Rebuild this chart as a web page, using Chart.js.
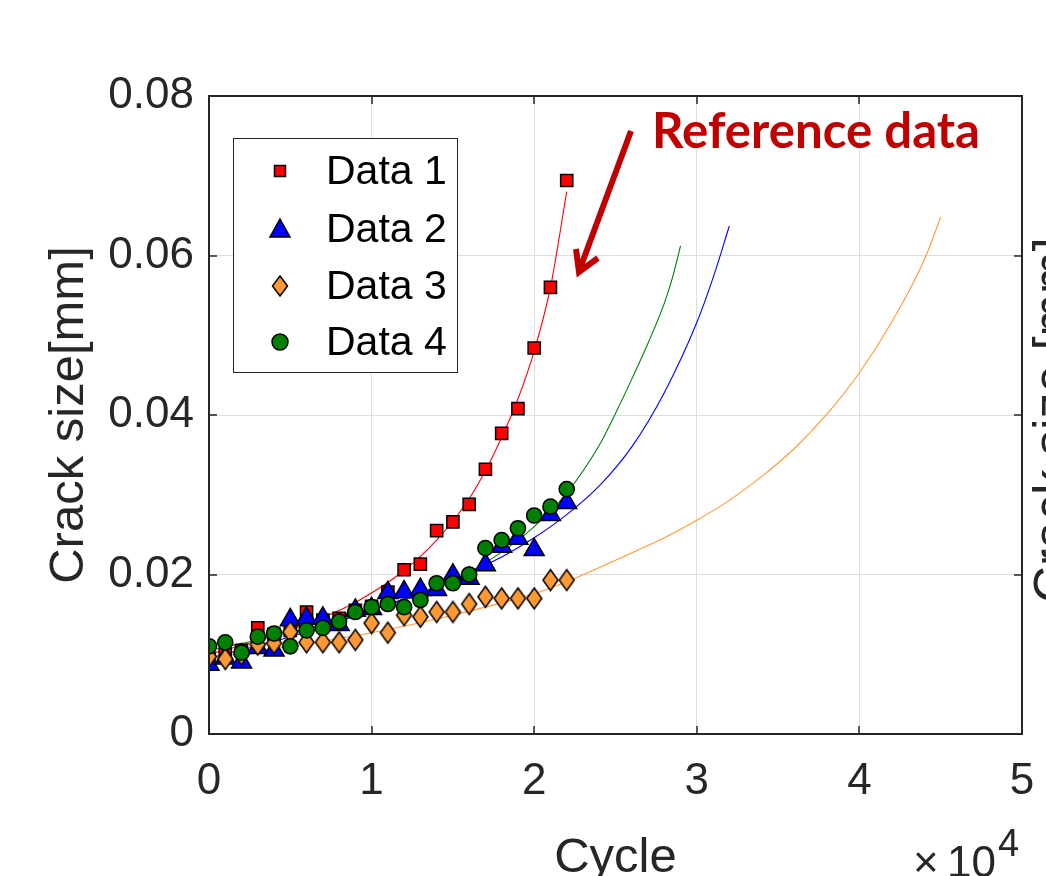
<!DOCTYPE html>
<html><head><meta charset="utf-8">
<script src="https://cdn.jsdelivr.net/npm/chart.js@4.4.1/dist/chart.umd.min.js"></script>
<style>html,body{margin:0;padding:0;background:#fff;overflow:hidden}#wrap{width:1046px;height:876px;position:relative}</style>
</head><body><div id="wrap"><canvas id="c" width="1046" height="876"></canvas></div>
<script>
// ---------- data ----------
const cycles = [0,1000,2000,3000,4000,5000,6000,7000,8000,9000,10000,11000,12000,13000,14000,15000,16000,17000,18000,19000,20000,21000,22000];
const data1 = [0.0095,0.0100,0.0105,0.0133,0.0125,0.0130,0.0153,0.0143,0.0145,0.0155,0.0160,0.0178,0.0206,0.0213,0.0255,0.0266,0.0288,0.0332,0.0377,0.0408,0.0484,0.0560,0.0694];
const data2 = [0.0087,0.0095,0.0090,0.0108,0.0105,0.0143,0.0145,0.0145,0.0137,0.0155,0.0157,0.0177,0.0178,0.0181,0.0181,0.0199,0.0195,0.0212,0.0235,0.0245,0.0231,0.0275,0.0290];
const data3 = [0.0097,0.0094,0.0100,0.0112,0.0114,0.0128,0.0115,0.0115,0.0115,0.0118,0.0139,0.0127,0.0149,0.0147,0.0153,0.0153,0.0163,0.0172,0.0170,0.0170,0.0170,0.0193,0.0193];
const data4 = [0.0110,0.0115,0.0102,0.0122,0.0126,0.0110,0.0130,0.0133,0.0141,0.0153,0.0159,0.0163,0.0159,0.0168,0.0189,0.0189,0.0200,0.0233,0.0243,0.0258,0.0274,0.0285,0.0307];

// fitted curves
const fit1X = [0,3000,6000,9000,12000,14000,16000,17000,18000,19000,20000,21000,22000];
const fit1Y = [0.0100,0.0117,0.0138,0.0165,0.0205,0.0243,0.0295,0.0330,0.0372,0.0420,0.0480,0.0560,0.0680];
const fit2X = [0,5000,10000,15000,18000,20000,22000,24000,26000,28000,30000,31000,32000];
const fit2Y = [0.0095,0.0122,0.0155,0.0193,0.0222,0.0246,0.0275,0.0311,0.0360,0.0428,0.0516,0.0572,0.0637];
const fit3X = [0,5000,10000,15000,20000,22000,25000,28000,30000,32000,34000,36000,38000,40000,42000,44000,45000];
const fit3Y = [0.0095,0.0110,0.0127,0.0149,0.0176,0.0191,0.0218,0.0246,0.0268,0.0293,0.0323,0.0358,0.0401,0.0453,0.0517,0.0595,0.0648];
const fit4X = [0,5000,10000,15000,18000,20000,22000,24000,25000,26000,27000,28000,28500,29000];
const fit4Y = [0.0105,0.0127,0.0155,0.0192,0.0228,0.0260,0.0302,0.0362,0.0402,0.0445,0.0490,0.0540,0.0572,0.0612];

const seriesNames = ['Data 1','Data 2','Data 3','Data 4'];
const xTickLabels = ['0','1','2','3','4','5'];
const yTickLabels = ['0','0.02','0.04','0.06','0.08'];
const xTitle = 'Cycle';
const yTitle = 'Crack size[mm]';
const annotationText = 'Reference data';
const rightCutText = 'Crack size [mm]';

// ---------- styles ----------
const AX = '#262626';
const FONT = "'Liberation Sans', Arial, Helvetica, sans-serif";
const colRed = '#FF0000', colBlue = '#0000FF', colOrange = '#FF9933', colGreen = '#008000';

function makeDiamond(w, h, fill) {
  const c = document.createElement('canvas');
  c.width = w + 4; c.height = h + 4;
  const g = c.getContext('2d');
  const cx = c.width / 2, cy = c.height / 2;
  g.beginPath();
  g.moveTo(cx, cy - h / 2); g.lineTo(cx + w / 2, cy); g.lineTo(cx, cy + h / 2); g.lineTo(cx - w / 2, cy); g.closePath();
  g.fillStyle = fill; g.fill();
  g.lineWidth = 1.5; g.strokeStyle = '#000'; g.stroke();
  return c;
}
const diamondImg = makeDiamond(15, 21, colOrange);

const pts = (xs, ys) => xs.map((x, i) => ({x: x, y: ys[i]}));

const markerDefs = [
  {style: 'rect', radius: 8.6, color: colRed},
  {style: 'triangle', radius: 11.5, color: colBlue},
  {style: diamondImg, radius: 10, color: colOrange},
  {style: 'circle', radius: 7.6, color: colGreen}
];
const markerData = [data1, data2, data3, data4];
const fitDefs = [[fit1X, fit1Y, colRed], [fit2X, fit2Y, colBlue], [fit3X, fit3Y, colOrange], [fit4X, fit4Y, colGreen]];

const datasets = [];
fitDefs.forEach((f, i) => {
  datasets.push({
    label: 'fit' + (i + 1), data: pts(f[0], f[1]), showLine: true, borderColor: f[2], borderWidth: 1.1,
    pointRadius: 0, pointHoverRadius: 0, cubicInterpolationMode: 'monotone', fill: false, order: 10
  });
});
markerDefs.forEach((m, i) => {
  datasets.push({
    label: seriesNames[i], data: pts(cycles, markerData[i]), showLine: false,
    pointStyle: m.style, pointRadius: m.radius, pointHoverRadius: m.radius,
    backgroundColor: m.color, borderColor: '#000', pointBorderWidth: 1.5, borderWidth: 1.5,
    order: 4 - i
  });
});

function drawLegendMarker(ctx, i, x, y) {
  ctx.save();
  ctx.lineWidth = 1.5; ctx.strokeStyle = '#000';
  ctx.fillStyle = markerDefs[i].color;
  ctx.beginPath();
  if (i === 0) { ctx.rect(x - 5.5, y - 5.5, 11, 11); }
  else if (i === 1) { ctx.moveTo(x, y - 10); ctx.lineTo(x + 10, y + 8); ctx.lineTo(x - 10, y + 8); ctx.closePath(); }
  else if (i === 2) { ctx.moveTo(x, y - 10); ctx.lineTo(x + 7.5, y); ctx.lineTo(x, y + 10); ctx.lineTo(x - 7.5, y); ctx.closePath(); }
  else { ctx.arc(x, y, 8, 0, Math.PI * 2); }
  ctx.fill(); ctx.stroke();
  ctx.restore();
}

const decor = {
  id: 'decor',
  afterDatasetsDraw(chart) {
    const ctx = chart.ctx, a = chart.chartArea;
    const xs = chart.scales.x, ys = chart.scales.y;
    ctx.save();
    ctx.strokeStyle = AX; ctx.lineWidth = 2;
    ctx.beginPath();
    ctx.rect(a.left, a.top, a.right - a.left, a.bottom - a.top);
    ctx.stroke();
    ctx.lineWidth = 1.5;
    ctx.beginPath();
    xs.ticks.forEach(t => {
      const p = Math.round(xs.getPixelForValue(t.value));
      ctx.moveTo(p, a.bottom); ctx.lineTo(p, a.bottom - 8);
      ctx.moveTo(p, a.top); ctx.lineTo(p, a.top + 8);
    });
    ys.ticks.forEach(t => {
      const p = Math.round(ys.getPixelForValue(t.value));
      ctx.moveTo(a.left, p); ctx.lineTo(a.left + 8, p);
      ctx.moveTo(a.right, p); ctx.lineTo(a.right - 8, p);
    });
    ctx.stroke();
    ctx.restore();
  },
  afterDraw(chart) {
    const ctx = chart.ctx;
    ctx.save();
    // legend
    const lx = 233, ly = 138, lw = 224, lh = 234;
    ctx.fillStyle = '#fff'; ctx.fillRect(lx, ly, lw, lh);
    ctx.strokeStyle = AX; ctx.lineWidth = 1; ctx.strokeRect(lx + 0.5, ly + 0.5, lw, lh);
    const rows = [171, 229, 286, 342];
    ctx.font = '41px ' + FONT; ctx.fillStyle = '#000'; ctx.textBaseline = 'middle'; ctx.textAlign = 'left';
    seriesNames.forEach((n, i) => {
      drawLegendMarker(ctx, i, 280, rows[i]);
      ctx.fillText(n, 326, rows[i] + 2);
    });
    // annotation
    ctx.fillStyle = '#C00000';
    let fs = 48;
    ctx.font = 'bold ' + fs + "px Lato, 'Open Sans', sans-serif";
    const w = ctx.measureText(annotationText).width;
    fs = fs * 328 / w;
    ctx.font = 'bold ' + fs.toFixed(1) + "px Lato, 'Open Sans', sans-serif";
    ctx.textBaseline = 'alphabetic';
    ctx.fillText(annotationText, 652, 148);
    // arrow
    ctx.strokeStyle = '#C00000'; ctx.lineWidth = 6; ctx.lineCap = 'butt'; ctx.lineJoin = 'miter';
    ctx.beginPath(); ctx.moveTo(631, 131); ctx.lineTo(581, 266); ctx.stroke();
    ctx.beginPath(); ctx.moveTo(576, 249); ctx.lineTo(579, 272); ctx.lineTo(598, 258); ctx.stroke();
    // x10^4
    ctx.fillStyle = AX;
    ctx.font = '44px ' + FONT;
    ctx.fillText('\u00D7', 913, 877);
    ctx.fillText('10', 947, 877);
    ctx.font = '38px ' + FONT;
    ctx.fillText('4', 998, 856);
    // cut-off label of the neighbouring panel
    ctx.save();
    ctx.translate(1070, 420);
    ctx.rotate(-Math.PI / 2);
    ctx.font = '51px ' + FONT;
    ctx.textAlign = 'center';
    ctx.fillText(rightCutText, 0, 0);
    ctx.restore();
    ctx.restore();
  }
};

new Chart(document.getElementById('c'), {
  type: 'scatter',
  data: {datasets: datasets},
  options: {
    responsive: false, animation: false, devicePixelRatio: 1,
    layout: {padding: {left: 0, right: 24, top: 96, bottom: 0}},
    plugins: {legend: {display: false}, tooltip: {enabled: false}},
    elements: {line: {tension: 0}},
    scales: {
      x: {
        type: 'linear', min: 0, max: 50000,
        afterFit: s => { s.height = 142; s.paddingLeft = 0; s.paddingRight = 0; },
        ticks: {stepSize: 10000, autoSkip: false, maxRotation: 0, padding: 21, color: AX,
          font: {family: FONT, size: 44},
          callback: v => xTickLabels[Math.round(v / 10000)]},
        grid: {color: '#DEDEDE', lineWidth: 1, drawTicks: false},
        border: {display: false},
        title: {display: true, text: xTitle, color: AX, font: {family: FONT, size: 49, lineHeight: 1},
          padding: {top: 0, bottom: -7}}
      },
      y: {
        type: 'linear', min: 0, max: 0.08,
        afterFit: s => { s.width = 209; s.paddingTop = 0; s.paddingBottom = 0; },
        ticks: {stepSize: 0.02, padding: 15, color: AX,
          font: {family: FONT, size: 44},
          callback: v => yTickLabels[Math.round(v / 0.02)]},
        grid: {color: '#DEDEDE', lineWidth: 1, drawTicks: false},
        border: {display: false},
        title: {display: true, text: yTitle, color: AX, font: {family: FONT, size: 49, lineHeight: 1},
          padding: {top: 45, bottom: 0}}
      }
    }
  },
  plugins: [decor]
});
</script></body></html>
